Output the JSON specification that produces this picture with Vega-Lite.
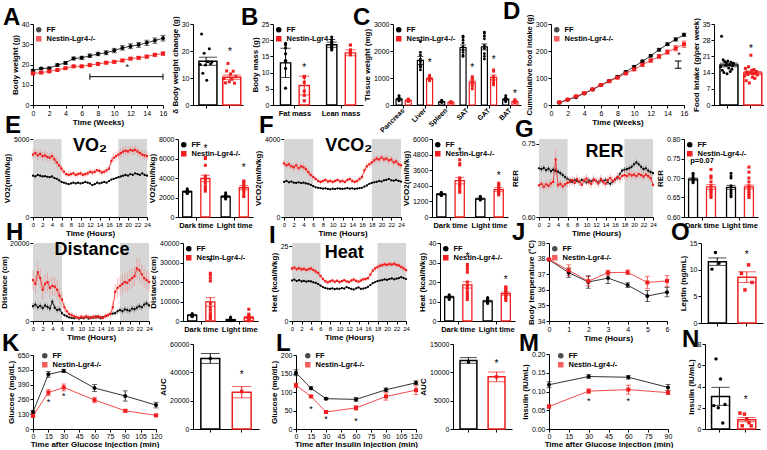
{
"padding":{"left":0,"top":0,"right":0,"bottom":0},
"config":{
 "font":"Liberation Sans",
 "view":{"stroke":null},
 "axis":{"labelFontSize":7,"titleFontSize":8,"titleFontWeight":"bold","labelColor":"#000","titleColor":"#000","domainColor":"#000","tickColor":"#000","grid":false,"tickSize":3,"labelPadding":1,"titlePadding":2,"labelFlush":false,"labelOverlap":false},
 "title":{"anchor":"start","frame":"group","fontSize":24,"fontWeight":"bold","color":"#000","offset":1},
 "legend":{"orient":"top-left","labelFontSize":7.5,"labelFontWeight":"bold","labelColor":"#000","symbolSize":16,"padding":0,"rowPadding":-3,"offset":2}
},
"vconcat":[
{"hconcat":[
   {"width":130,"height":81,"title":{"text":"A","dx":-30,"offset":-10},
    "data":{"values":[
{"x":0,"g":"FF","v":17,"e":0.6},{"x":1,"g":"FF","v":18,"e":0.6},{"x":2,"g":"FF","v":18.2,"e":0.6},{"x":3,"g":"FF","v":19.7,"e":0.6},{"x":4,"g":"FF","v":20.8,"e":0.7},{"x":5,"g":"FF","v":23,"e":0.7},{"x":6,"g":"FF","v":23.3,"e":0.8},{"x":7,"g":"FF","v":24.3,"e":0.9},{"x":8,"g":"FF","v":25.2,"e":0.9},{"x":9,"g":"FF","v":25.8,"e":1},{"x":10,"g":"FF","v":26.9,"e":1.1},{"x":11,"g":"FF","v":28.2,"e":1.1},{"x":12,"g":"FF","v":29,"e":1.2},{"x":13,"g":"FF","v":29.7,"e":1.2},{"x":14,"g":"FF","v":30.7,"e":1.3},{"x":15,"g":"FF","v":31.8,"e":1.3},{"x":16,"g":"FF","v":33,"e":1.4},
{"x":0,"g":"N","v":15.6,"e":0.4},{"x":1,"g":"N","v":16,"e":0.4},{"x":2,"g":"N","v":16.6,"e":0.4},{"x":3,"g":"N","v":17.3,"e":0.4},{"x":4,"g":"N","v":18.2,"e":0.5},{"x":5,"g":"N","v":19.1,"e":0.5},{"x":6,"g":"N","v":19.1,"e":0.5},{"x":7,"g":"N","v":19.7,"e":0.5},{"x":8,"g":"N","v":20.3,"e":0.5},{"x":9,"g":"N","v":20.9,"e":0.6},{"x":10,"g":"N","v":21.3,"e":0.6},{"x":11,"g":"N","v":22,"e":0.6},{"x":12,"g":"N","v":22.9,"e":0.6},{"x":13,"g":"N","v":23.3,"e":0.6},{"x":14,"g":"N","v":23.9,"e":0.7},{"x":15,"g":"N","v":24.8,"e":0.7},{"x":16,"g":"N","v":25.4,"e":0.8}]},
    "encoding":{"x":{"field":"x","type":"quantitative","scale":{"domain":[0,16],"nice":false},"axis":{"values":[0,2,4,6,8,10,12,14,16],"title":"Time (Weeks)"}},
     "y":{"field":"v","type":"quantitative","scale":{"domain":[0,40]},"axis":{"values":[0,10,20,30,40],"title":"Body weight (g)"}}},
    "layer":[
     {"mark":{"type":"errorbar","ticks":true,"thickness":0.8},"encoding":{"yError":{"field":"e"},"color":{"field":"g","type":"nominal","scale":{"domain":["FF","N"],"range":["#000000","#f01e1e"]}}}},
     {"mark":{"type":"line","strokeWidth":0.8},"encoding":{"color":{"field":"g","type":"nominal","scale":{"domain":["FF","N"],"range":["#000000","#f01e1e"]}}}},
     {"mark":{"type":"point","filled":true,"size":16,"opacity":1},"encoding":{"color":{"field":"g","type":"nominal","scale":{"domain":["FF","N"],"range":["#000000","#f01e1e"]},"legend":{"title":null,"labelExpr":"datum.label == 'N' ? 'Nestin-Lgr4-/-' : datum.label"}},"shape":{"field":"g","type":"nominal","scale":{"domain":["FF","N"],"range":["circle","square"]},"legend":{"title":null,"labelExpr":"datum.label == 'N' ? 'Nestin-Lgr4-/-' : datum.label"}}}},
     {"data":{"values":[{"x":11.6,"v":18.7}]},"mark":{"type":"text","text":"*","fontSize":9,"color":"#000"}},
     {"data":{"values":[{"x":7,"x2":16,"v":14}]},"mark":{"type":"rule","color":"#000","strokeWidth":1},"encoding":{"x2":{"field":"x2"}}},
     {"data":{"values":[{"x":7,"v":12.5,"v2":15.5},{"x":16,"v":12.5,"v2":15.5}]},"mark":{"type":"rule","color":"#000","strokeWidth":1},"encoding":{"y2":{"field":"v2"}}}
    ]},
   {"width":50,"height":81,
    "data":{"values":[{"g":"FF","v":16.2,"e":1.5},{"g":"N","v":10.3,"e":0.8}]},
    "encoding":{"x":{"field":"g","type":"nominal","scale":{"domain":["FF","N"],"paddingInner":0.4,"paddingOuter":0.25},"axis":{"labels":false,"title":null}},
     "y":{"field":"v","type":"quantitative","scale":{"domain":[0,30]},"axis":{"values":[0,10,20,30],"title":"δ Body weight change (g)"}}},
    "layer":[
     {"mark":{"type":"bar","fill":"white","strokeWidth":1.5},"encoding":{"stroke":{"field":"g","type":"nominal","scale":{"domain":["FF","N"],"range":["#000000","#f01e1e"]},"legend":null}}},
     {"mark":{"type":"errorbar","ticks":true},"encoding":{"yError":{"field":"e"},"color":{"field":"g","type":"nominal","scale":{"domain":["FF","N"],"range":["#000000","#f01e1e"]},"legend":null}}},
     {"data":{"values":[{"g":"FF","i":1,"v":15.0},{"g":"FF","i":2,"v":26.3},{"g":"FF","i":3,"v":11.8},{"g":"FF","i":4,"v":19.2},{"g":"FF","i":5,"v":14.8},{"g":"FF","i":6,"v":9.2},{"g":"FF","i":7,"v":16.0},{"g":"FF","i":8,"v":20.8},{"g":"FF","i":9,"v":15.3},{"g":"FF","i":10,"v":15.9},
{"g":"N","i":1,"v":9.8},{"g":"N","i":2,"v":8.2},{"g":"N","i":3,"v":12.6},{"g":"N","i":4,"v":15.4},{"g":"N","i":5,"v":8.6},{"g":"N","i":6,"v":11.5},{"g":"N","i":7,"v":9.5},{"g":"N","i":8,"v":12.5},{"g":"N","i":9,"v":8.1},{"g":"N","i":10,"v":10.5}]},
      "mark":{"type":"point","filled":true,"size":9,"opacity":1},"encoding":{"xOffset":{"field":"i","type":"ordinal","scale":{"paddingOuter":1}},"color":{"field":"g","type":"nominal","scale":{"domain":["FF","N"],"range":["#000000","#f01e1e"]},"legend":null},"shape":{"field":"g","type":"nominal","scale":{"domain":["FF","N"],"range":["circle","square"]},"legend":null}}},
     {"data":{"values":[{"g":"N","v":19.8}]},"mark":{"type":"text","text":"*","fontSize":10,"color":"#000"}}
    ]},
  {"width":90,"height":81,"title":{"text":"B","dx":-32,"offset":-10},
   "data":{"values":[{"p":"Fat mass","g":"FF","v":13,"e":4.5},{"p":"Fat mass","g":"N","v":6,"e":2.9},{"p":"Lean mass","g":"FF","v":18.6,"e":0.8},{"p":"Lean mass","g":"N","v":16.1,"e":0.9}]},
   "encoding":{"x":{"field":"p","type":"nominal","scale":{"domain":["Fat mass","Lean mass"],"paddingInner":0.25,"paddingOuter":0.1},"axis":{"title":null,"labelAngle":0,"labelFontWeight":"bold","labelFontSize":7.5}},
    "xOffset":{"field":"g","type":"nominal","scale":{"domain":["FF","N"],"paddingInner":0.45,"paddingOuter":0.15}},
    "y":{"field":"v","type":"quantitative","scale":{"domain":[0,25]},"axis":{"values":[0,5,10,15,20,25],"title":"Body mass (g)"}}},
   "layer":[
    {"mark":{"type":"bar","fill":"white","strokeWidth":1.4},"encoding":{"stroke":{"field":"g","type":"nominal","scale":{"domain":["FF","N"],"range":["#000000","#f01e1e"]},"legend":{"title":null,"labelExpr":"datum.label == 'N' ? 'Nestin-Lgr4-/-' : datum.label"}}}},
    {"mark":{"type":"errorbar","ticks":true},"encoding":{"yError":{"field":"e"},"color":{"field":"g","type":"nominal","scale":{"domain":["FF","N"],"range":["#000000","#f01e1e"]},"legend":{"title":null,"labelExpr":"datum.label == 'N' ? 'Nestin-Lgr4-/-' : datum.label"}}}},
    {"data":{"values":[{"p":"Fat mass","g":"FF","v":19},{"p":"Fat mass","g":"FF","v":18.5},{"p":"Fat mass","g":"FF","v":17.6},{"p":"Fat mass","g":"FF","v":15.8},{"p":"Fat mass","g":"FF","v":13.8},{"p":"Fat mass","g":"FF","v":11.3},{"p":"Fat mass","g":"FF","v":5.2},{"p":"Fat mass","g":"FF","v":13.4},
{"p":"Fat mass","g":"N","v":8.8},{"p":"Fat mass","g":"N","v":8.6},{"p":"Fat mass","g":"N","v":7},{"p":"Fat mass","g":"N","v":4.3},{"p":"Fat mass","g":"N","v":3},{"p":"Fat mass","g":"N","v":1.3},
{"p":"Lean mass","g":"FF","v":21},{"p":"Lean mass","g":"FF","v":20.2},{"p":"Lean mass","g":"FF","v":19.5},{"p":"Lean mass","g":"FF","v":19},{"p":"Lean mass","g":"FF","v":18.5},{"p":"Lean mass","g":"FF","v":18.2},{"p":"Lean mass","g":"FF","v":17.8},{"p":"Lean mass","g":"FF","v":17.5},{"p":"Lean mass","g":"FF","v":17},
{"p":"Lean mass","g":"N","v":18.5},{"p":"Lean mass","g":"N","v":17},{"p":"Lean mass","g":"N","v":16.5},{"p":"Lean mass","g":"N","v":16},{"p":"Lean mass","g":"N","v":15.8},{"p":"Lean mass","g":"N","v":15.5}]},
     "mark":{"type":"point","filled":true,"size":10,"opacity":1},"encoding":{"color":{"field":"g","type":"nominal","scale":{"domain":["FF","N"],"range":["#000000","#f01e1e"]},"legend":{"title":null,"labelExpr":"datum.label == 'N' ? 'Nestin-Lgr4-/-' : datum.label"}},"shape":{"field":"g","type":"nominal","scale":{"domain":["FF","N"],"range":["circle","square"]},"legend":{"title":null,"labelExpr":"datum.label == 'N' ? 'Nestin-Lgr4-/-' : datum.label"}}}},
    {"data":{"values":[{"p":"Fat mass","g":"N","v":11.5}]},"mark":{"type":"text","text":"*","fontSize":10,"color":"#000"}}
   ]},
  {"width":128,"height":81,"title":{"text":"C","dx":-40,"offset":-10},
   "data":{"values":[{"p":"Pancreas","g":"FF","v":220,"e":30},{"p":"Pancreas","g":"N","v":170,"e":15},{"p":"Liver","g":"FF","v":1650,"e":150},{"p":"Liver","g":"N","v":980,"e":40},{"p":"Spleen","g":"FF","v":120,"e":15},{"p":"Spleen","g":"N","v":95,"e":8},{"p":"SAT","g":"FF","v":2130,"e":90},{"p":"SAT","g":"N","v":850,"e":70},{"p":"GAT","g":"FF","v":2150,"e":110},{"p":"GAT","g":"N","v":1020,"e":90},{"p":"BAT","g":"FF","v":210,"e":30},{"p":"BAT","g":"N","v":130,"e":15}]},
   "encoding":{"x":{"field":"p","type":"nominal","scale":{"domain":["Pancreas","Liver","Spleen","SAT","GAT","BAT"],"paddingInner":0.2,"paddingOuter":0.1},"axis":{"title":null,"labelAngle":-45,"labelAlign":"right","labelBaseline":"middle","labelFontWeight":"bold","labelFontSize":7}},
    "xOffset":{"field":"g","type":"nominal","scale":{"domain":["FF","N"],"paddingInner":0.35,"paddingOuter":0.1}},
    "y":{"field":"v","type":"quantitative","scale":{"domain":[0,3000]},"axis":{"values":[0,1000,2000,3000],"format":"d","title":"Tissue weight (mg)"}}},
   "layer":[
    {"mark":{"type":"bar","fill":"white","strokeWidth":1.2},"encoding":{"stroke":{"field":"g","type":"nominal","scale":{"domain":["FF","N"],"range":["#000000","#f01e1e"]},"legend":{"title":null,"labelExpr":"datum.label == 'N' ? 'Nestin-Lgr4-/-' : datum.label"}}}},
    {"mark":{"type":"errorbar","ticks":true},"encoding":{"yError":{"field":"e"},"color":{"field":"g","type":"nominal","scale":{"domain":["FF","N"],"range":["#000000","#f01e1e"]},"legend":{"title":null,"labelExpr":"datum.label == 'N' ? 'Nestin-Lgr4-/-' : datum.label"}}}},
    {"data":{"values":[
{"p":"Pancreas","g":"FF","v":350},{"p":"Pancreas","g":"FF","v":300},{"p":"Pancreas","g":"FF","v":250},{"p":"Pancreas","g":"FF","v":220},{"p":"Pancreas","g":"FF","v":200},{"p":"Pancreas","g":"FF","v":180},{"p":"Pancreas","g":"FF","v":150},
{"p":"Pancreas","g":"N","v":220},{"p":"Pancreas","g":"N","v":200},{"p":"Pancreas","g":"N","v":180},{"p":"Pancreas","g":"N","v":160},{"p":"Pancreas","g":"N","v":150},{"p":"Pancreas","g":"N","v":130},
{"p":"Liver","g":"FF","v":2350},{"p":"Liver","g":"FF","v":1950},{"p":"Liver","g":"FF","v":1850},{"p":"Liver","g":"FF","v":1700},{"p":"Liver","g":"FF","v":1600},{"p":"Liver","g":"FF","v":1500},{"p":"Liver","g":"FF","v":1450},{"p":"Liver","g":"FF","v":1400},{"p":"Liver","g":"FF","v":1300},
{"p":"Liver","g":"N","v":1100},{"p":"Liver","g":"N","v":1050},{"p":"Liver","g":"N","v":1000},{"p":"Liver","g":"N","v":980},{"p":"Liver","g":"N","v":950},{"p":"Liver","g":"N","v":920},{"p":"Liver","g":"N","v":900},
{"p":"Spleen","g":"FF","v":180},{"p":"Spleen","g":"FF","v":150},{"p":"Spleen","g":"FF","v":130},{"p":"Spleen","g":"FF","v":110},{"p":"Spleen","g":"FF","v":100},{"p":"Spleen","g":"FF","v":90},
{"p":"Spleen","g":"N","v":120},{"p":"Spleen","g":"N","v":110},{"p":"Spleen","g":"N","v":100},{"p":"Spleen","g":"N","v":90},{"p":"Spleen","g":"N","v":80},
{"p":"SAT","g":"FF","v":2550},{"p":"SAT","g":"FF","v":2500},{"p":"SAT","g":"FF","v":2400},{"p":"SAT","g":"FF","v":2300},{"p":"SAT","g":"FF","v":2150},{"p":"SAT","g":"FF","v":2050},{"p":"SAT","g":"FF","v":1950},{"p":"SAT","g":"FF","v":1850},{"p":"SAT","g":"FF","v":1800},
{"p":"SAT","g":"N","v":1050},{"p":"SAT","g":"N","v":1000},{"p":"SAT","g":"N","v":950},{"p":"SAT","g":"N","v":850},{"p":"SAT","g":"N","v":800},{"p":"SAT","g":"N","v":700},{"p":"SAT","g":"N","v":600},
{"p":"GAT","g":"FF","v":2700},{"p":"GAT","g":"FF","v":2650},{"p":"GAT","g":"FF","v":2550},{"p":"GAT","g":"FF","v":2450},{"p":"GAT","g":"FF","v":2200},{"p":"GAT","g":"FF","v":2100},{"p":"GAT","g":"FF","v":1900},{"p":"GAT","g":"FF","v":1800},{"p":"GAT","g":"FF","v":1700},
{"p":"GAT","g":"N","v":1300},{"p":"GAT","g":"N","v":1250},{"p":"GAT","g":"N","v":1050},{"p":"GAT","g":"N","v":1000},{"p":"GAT","g":"N","v":900},{"p":"GAT","g":"N","v":800},{"p":"GAT","g":"N","v":750},
{"p":"BAT","g":"FF","v":350},{"p":"BAT","g":"FF","v":280},{"p":"BAT","g":"FF","v":250},{"p":"BAT","g":"FF","v":200},{"p":"BAT","g":"FF","v":180},{"p":"BAT","g":"FF","v":150},{"p":"BAT","g":"FF","v":120},
{"p":"BAT","g":"N","v":200},{"p":"BAT","g":"N","v":160},{"p":"BAT","g":"N","v":130},{"p":"BAT","g":"N","v":110},{"p":"BAT","g":"N","v":100},{"p":"BAT","g":"N","v":90}]},
     "mark":{"type":"point","filled":true,"size":8,"opacity":1},"encoding":{"color":{"field":"g","type":"nominal","scale":{"domain":["FF","N"],"range":["#000000","#f01e1e"]},"legend":{"title":null,"labelExpr":"datum.label == 'N' ? 'Nestin-Lgr4-/-' : datum.label"}},"shape":{"field":"g","type":"nominal","scale":{"domain":["FF","N"],"range":["circle","square"]},"legend":{"title":null,"labelExpr":"datum.label == 'N' ? 'Nestin-Lgr4-/-' : datum.label"}}}},
    {"data":{"values":[{"p":"Liver","g":"N","v":1560},{"p":"SAT","g":"N","v":1360},{"p":"GAT","g":"N","v":1680},{"p":"BAT","g":"N","v":400}]},"mark":{"type":"text","text":"*","fontSize":10,"color":"#000"}}
   ]},
   {"width":133,"height":81,"title":{"text":"D","dx":-48,"offset":-10},
    "data":{"values":[
{"x":1,"g":"FF","v":8,"e":1},{"x":2,"g":"FF","v":19,"e":1},{"x":3,"g":"FF","v":29,"e":2},{"x":4,"g":"FF","v":43,"e":2},{"x":5,"g":"FF","v":57,"e":2},{"x":6,"g":"FF","v":73,"e":2},{"x":7,"g":"FF","v":89,"e":3},{"x":8,"g":"FF","v":105,"e":3},{"x":9,"g":"FF","v":123,"e":3},{"x":10,"g":"FF","v":142,"e":4},{"x":11,"g":"FF","v":162,"e":4},{"x":12,"g":"FF","v":182,"e":4},{"x":13,"g":"FF","v":205,"e":5},{"x":14,"g":"FF","v":225,"e":5},{"x":15,"g":"FF","v":243,"e":6},{"x":16,"g":"FF","v":260,"e":6},
{"x":1,"g":"N","v":10,"e":1},{"x":2,"g":"N","v":20,"e":1},{"x":3,"g":"N","v":32,"e":2},{"x":4,"g":"N","v":44,"e":2},{"x":5,"g":"N","v":58,"e":2},{"x":6,"g":"N","v":74,"e":2},{"x":7,"g":"N","v":88,"e":3},{"x":8,"g":"N","v":101,"e":3},{"x":9,"g":"N","v":117,"e":3},{"x":10,"g":"N","v":132,"e":4},{"x":11,"g":"N","v":149,"e":5},{"x":12,"g":"N","v":165,"e":6},{"x":13,"g":"N","v":180,"e":7},{"x":14,"g":"N","v":196,"e":8},{"x":15,"g":"N","v":210,"e":10},{"x":16,"g":"N","v":225,"e":12}]},
    "encoding":{"x":{"field":"x","type":"quantitative","scale":{"domain":[0,16],"nice":false},"axis":{"values":[0,2,4,6,8,10,12,14,16],"title":"Time (Weeks)"}},
     "y":{"field":"v","type":"quantitative","scale":{"domain":[0,300]},"axis":{"values":[0,100,200,300],"title":"Cummulative food intake (g)","titleFontSize":7.5}}},
    "layer":[
     {"mark":{"type":"errorbar","ticks":true,"thickness":0.8},"encoding":{"yError":{"field":"e"},"color":{"field":"g","type":"nominal","scale":{"domain":["FF","N"],"range":["#000000","#f01e1e"]}}}},
     {"mark":{"type":"line","strokeWidth":0.8},"encoding":{"color":{"field":"g","type":"nominal","scale":{"domain":["FF","N"],"range":["#000000","#f01e1e"]}}}},
     {"mark":{"type":"point","filled":true,"size":16,"opacity":1},"encoding":{"color":{"field":"g","type":"nominal","scale":{"domain":["FF","N"],"range":["#000000","#f01e1e"]},"legend":{"title":null,"labelExpr":"datum.label == 'N' ? 'Nestin-Lgr4-/-' : datum.label"}},"shape":{"field":"g","type":"nominal","scale":{"domain":["FF","N"],"range":["circle","square"]},"legend":{"title":null,"labelExpr":"datum.label == 'N' ? 'Nestin-Lgr4-/-' : datum.label"}}}},
     {"data":{"values":[{"x":15.4,"v":186}]},"mark":{"type":"text","text":"*","fontSize":9,"color":"#000"}},
     {"data":{"values":[{"x":15.3,"v":136,"v2":163}]},"mark":{"type":"rule","color":"#000","strokeWidth":1},"encoding":{"y2":{"field":"v2"}}},
     {"data":{"values":[{"x":14.9,"x2":15.7,"v":136},{"x":14.9,"x2":15.7,"v":163}]},"mark":{"type":"rule","color":"#000","strokeWidth":1},"encoding":{"x2":{"field":"x2"}}}
    ]},
   {"width":50,"height":81,
    "data":{"values":[{"g":"FF","v":17.3,"e":0.8},{"g":"N","v":13.8,"e":0.7}]},
    "encoding":{"x":{"field":"g","type":"nominal","scale":{"domain":["FF","N"],"paddingInner":0.4,"paddingOuter":0.25},"axis":{"labels":false,"title":null}},
     "y":{"field":"v","type":"quantitative","scale":{"domain":[0,35]},"axis":{"values":[0,7,14,21,28,35],"title":"Food intake (g/per week)"}}},
    "layer":[
     {"mark":{"type":"bar","fill":"white","strokeWidth":1.5},"encoding":{"stroke":{"field":"g","type":"nominal","scale":{"domain":["FF","N"],"range":["#000000","#f01e1e"]},"legend":null}}},
     {"mark":{"type":"errorbar","ticks":true},"encoding":{"yError":{"field":"e"},"color":{"field":"g","type":"nominal","scale":{"domain":["FF","N"],"range":["#000000","#f01e1e"]},"legend":null}}},
     {"data":{"values":[{"g":"FF","i":1,"v":16.5},{"g":"FF","i":2,"v":29.7},{"g":"FF","i":3,"v":15.0},{"g":"FF","i":4,"v":19.5},{"g":"FF","i":5,"v":14.0},{"g":"FF","i":6,"v":18.8},{"g":"FF","i":7,"v":17.2},{"g":"FF","i":8,"v":18.3},{"g":"FF","i":9,"v":13.5},{"g":"FF","i":10,"v":19.0},{"g":"FF","i":11,"v":16.0},{"g":"FF","i":12,"v":17.5},{"g":"FF","i":13,"v":14.5},{"g":"FF","i":14,"v":18.5},{"g":"FF","i":15,"v":15.5},{"g":"FF","i":16,"v":17.0},{"g":"FF","i":17,"v":18.0},
{"g":"N","i":1,"v":12.5},{"g":"N","i":2,"v":15.8},{"g":"N","i":3,"v":10.5},{"g":"N","i":4,"v":14.3},{"g":"N","i":5,"v":13.2},{"g":"N","i":6,"v":16.5},{"g":"N","i":7,"v":9.5},{"g":"N","i":8,"v":14.0},{"g":"N","i":9,"v":21.5},{"g":"N","i":10,"v":15.0},{"g":"N","i":11,"v":12.0},{"g":"N","i":12,"v":13.5},{"g":"N","i":13,"v":15.3},{"g":"N","i":14,"v":11.5},{"g":"N","i":15,"v":13.8},{"g":"N","i":16,"v":14.5},{"g":"N","i":17,"v":13.0}]},
      "mark":{"type":"point","filled":true,"size":9,"opacity":1},"encoding":{"xOffset":{"field":"i","type":"ordinal","scale":{"paddingOuter":1}},"color":{"field":"g","type":"nominal","scale":{"domain":["FF","N"],"range":["#000000","#f01e1e"]},"legend":null},"shape":{"field":"g","type":"nominal","scale":{"domain":["FF","N"],"range":["circle","square"]},"legend":null}}},
     {"data":{"values":[{"g":"N","v":24.3}]},"mark":{"type":"text","text":"*","fontSize":10,"color":"#000"}}
    ]}
],"spacing":30,"bounds":"flush",
"resolve":{"scale":{"color":"independent","shape":"independent","stroke":"independent","xOffset":"independent"},"legend":{"color":"independent","shape":"independent","stroke":"independent"}}},
{"vconcat":[
{"hconcat":[
 {"width":114,"height":78,"title":{"text":"E","dx":-28,"offset":-3},
  "data":{"values":[
{"t":0,"a":2650,"ae":70,"b":4000,"be":300},{"t":0.5,"a":2600,"ae":70,"b":4100,"be":300},{"t":1,"a":2700,"ae":70,"b":3950,"be":300},{"t":1.5,"a":2650,"ae":70,"b":4050,"be":300},{"t":2,"a":2600,"ae":70,"b":3900,"be":300},{"t":2.5,"a":2620,"ae":70,"b":3950,"be":300},{"t":3,"a":2580,"ae":70,"b":3850,"be":300},{"t":3.5,"a":2550,"ae":70,"b":3800,"be":300},{"t":4,"a":2600,"ae":70,"b":3900,"be":300},{"t":4.5,"a":2500,"ae":70,"b":3700,"be":300},{"t":5,"a":2450,"ae":70,"b":3500,"be":300},{"t":5.5,"a":2350,"ae":70,"b":3300,"be":250},{"t":6,"a":2250,"ae":60,"b":3100,"be":220},{"t":6.5,"a":2200,"ae":60,"b":2900,"be":200},{"t":7,"a":2150,"ae":60,"b":2750,"be":190},{"t":7.5,"a":2100,"ae":60,"b":2700,"be":190},{"t":8,"a":2150,"ae":60,"b":2750,"be":190},{"t":8.5,"a":2200,"ae":60,"b":2800,"be":190},{"t":9,"a":2150,"ae":60,"b":2700,"be":190},{"t":9.5,"a":2200,"ae":60,"b":2750,"be":190},{"t":10,"a":2150,"ae":60,"b":2800,"be":190},{"t":10.5,"a":2180,"ae":60,"b":2700,"be":190},{"t":11,"a":2250,"ae":60,"b":2750,"be":190},{"t":11.5,"a":2200,"ae":60,"b":2800,"be":190},{"t":12,"a":2150,"ae":60,"b":2900,"be":190},{"t":12.5,"a":2050,"ae":60,"b":2850,"be":190},{"t":13,"a":2100,"ae":60,"b":2900,"be":190},{"t":13.5,"a":2200,"ae":60,"b":3000,"be":190},{"t":14,"a":2150,"ae":60,"b":2950,"be":190},{"t":14.5,"a":2200,"ae":60,"b":2850,"be":190},{"t":15,"a":2250,"ae":60,"b":2900,"be":190},{"t":15.5,"a":2200,"ae":60,"b":3000,"be":190},{"t":16,"a":2300,"ae":60,"b":3100,"be":200},{"t":16.5,"a":2400,"ae":70,"b":3600,"be":250},{"t":17,"a":2450,"ae":70,"b":3800,"be":300},{"t":17.5,"a":2500,"ae":70,"b":3900,"be":300},{"t":18,"a":2550,"ae":70,"b":4000,"be":300},{"t":18.5,"a":2600,"ae":70,"b":4100,"be":300},{"t":19,"a":2650,"ae":70,"b":4200,"be":300},{"t":19.5,"a":2700,"ae":70,"b":4250,"be":300},{"t":20,"a":2650,"ae":70,"b":4200,"be":300},{"t":20.5,"a":2750,"ae":70,"b":4300,"be":300},{"t":21,"a":2700,"ae":70,"b":4250,"be":300},{"t":21.5,"a":2800,"ae":70,"b":4300,"be":300},{"t":22,"a":2750,"ae":70,"b":4200,"be":300},{"t":22.5,"a":2700,"ae":70,"b":4100,"be":300},{"t":23,"a":2800,"ae":70,"b":4000,"be":300},{"t":23.5,"a":2700,"ae":70,"b":3950,"be":300},{"t":24,"a":2650,"ae":70,"b":3900,"be":300}]},
  "encoding":{"x":{"field":"t","type":"quantitative","scale":{"domain":[0,24],"nice":false},"axis":{"values":[0,2,4,6,8,10,12,14,16,18,20,22,24],"title":"Time (Hours)","labelFontSize":6}}},
  "layer":[
   {"data":{"values":[{"t":0,"t2":6},{"t":18,"t2":24}]},"mark":{"type":"rect","color":"#d6d6d6"},"encoding":{"x2":{"field":"t2"},"y":{"value":0},"y2":{"value":"height"}}},
   {"mark":{"type":"errorbar","color":"#555555","thickness":0.5},"encoding":{"y":{"field":"a","type":"quantitative","title":"VO2(ml/h/kg)","scale":{"domain":[0,5000]},"axis":{"values":[0,1000,2000,3000,4000,5000],"format":"d","title":"VO2(ml/h/kg)"}},"yError":{"field":"ae"}}},
   {"mark":{"type":"line","color":"#000000","strokeWidth":0.8,"point":{"filled":true,"size":5,"shape":"circle","color":"#000000"}},"encoding":{"y":{"field":"a","type":"quantitative","title":"VO2(ml/h/kg)"}}},
   {"mark":{"type":"errorbar","color":"#f37a7a","thickness":0.5},"encoding":{"y":{"field":"b","type":"quantitative","title":"VO2(ml/h/kg)"},"yError":{"field":"be"}}},
   {"mark":{"type":"line","color":"#f01e1e","strokeWidth":0.8,"point":{"filled":true,"size":5,"shape":"square","color":"#f01e1e"}},"encoding":{"y":{"field":"b","type":"quantitative","title":"VO2(ml/h/kg)"}}},
   {"data":{"values":[{"t":12,"a":4550,"s":"VO₂"}]},"mark":{"type":"text","fontSize":18,"fontWeight":"bold","color":"#000"},"encoding":{"y":{"field":"a","type":"quantitative","title":"VO2(ml/h/kg)"},"text":{"field":"s"}}}
  ]},
 {"width":75,"height":78,
  "data":{"values":[{"p":"D","g":"FF","v":2600,"e":80},{"p":"D","g":"N","v":3950,"e":330},{"p":"L","g":"FF","v":2100,"e":100},{"p":"L","g":"N","v":3000,"e":220}]},
  "encoding":{"x":{"field":"p","type":"nominal","scale":{"domain":["D","L"],"paddingInner":0.15,"paddingOuter":0.05},"axis":{"title":null,"labelAngle":0,"labelFontWeight":"bold","labelFontSize":7.5,"labelExpr":"datum.value == 'D' ? 'Dark time' : 'Light time'"}},
   "xOffset":{"field":"g","type":"nominal","scale":{"domain":["FF","N"],"paddingInner":0.5,"paddingOuter":0.15}},
   "y":{"field":"v","type":"quantitative","scale":{"domain":[0,8000]},"axis":{"values":[0,2000,4000,6000,8000],"format":"d","title":"VO2(ml/h/kg)"}}},
  "layer":[
   {"mark":{"type":"bar","fill":"white","strokeWidth":1.3},"encoding":{"stroke":{"field":"g","type":"nominal","scale":{"domain":["FF","N"],"range":["#000000","#f01e1e"]},"legend":{"title":null,"labelExpr":"datum.label == 'N' ? 'Nestin-Lgr4-/-' : datum.label"}}}},
   {"mark":{"type":"errorbar","ticks":true},"encoding":{"yError":{"field":"e"},"color":{"field":"g","type":"nominal","scale":{"domain":["FF","N"],"range":["#000000","#f01e1e"]},"legend":{"title":null,"labelExpr":"datum.label == 'N' ? 'Nestin-Lgr4-/-' : datum.label"}}}},
   {"data":{"values":[{"p":"D","g":"FF","v":2900},{"p":"D","g":"FF","v":2750},{"p":"D","g":"FF","v":2700},{"p":"D","g":"FF","v":2650},{"p":"D","g":"FF","v":2600},{"p":"D","g":"FF","v":2550},{"p":"D","g":"FF","v":2500},{"p":"D","g":"FF","v":2450},{"p":"D","g":"FF","v":2400},
{"p":"D","g":"N","v":6100},{"p":"D","g":"N","v":6000},{"p":"D","g":"N","v":5300},{"p":"D","g":"N","v":4200},{"p":"D","g":"N","v":4000},{"p":"D","g":"N","v":3800},{"p":"D","g":"N","v":3500},{"p":"D","g":"N","v":3200},{"p":"D","g":"N","v":3000},{"p":"D","g":"N","v":2800},{"p":"D","g":"N","v":2650},
{"p":"L","g":"FF","v":2500},{"p":"L","g":"FF","v":2300},{"p":"L","g":"FF","v":2200},{"p":"L","g":"FF","v":2150},{"p":"L","g":"FF","v":2100},{"p":"L","g":"FF","v":2050},{"p":"L","g":"FF","v":2000},{"p":"L","g":"FF","v":1950},{"p":"L","g":"FF","v":1850},
{"p":"L","g":"N","v":3700},{"p":"L","g":"N","v":3600},{"p":"L","g":"N","v":3400},{"p":"L","g":"N","v":3200},{"p":"L","g":"N","v":3000},{"p":"L","g":"N","v":2900},{"p":"L","g":"N","v":2700},{"p":"L","g":"N","v":2500},{"p":"L","g":"N","v":2200},{"p":"L","g":"N","v":2100}]},
    "mark":{"type":"point","filled":true,"size":9,"opacity":1},"encoding":{"color":{"field":"g","type":"nominal","scale":{"domain":["FF","N"],"range":["#000000","#f01e1e"]},"legend":{"title":null,"labelExpr":"datum.label == 'N' ? 'Nestin-Lgr4-/-' : datum.label"}},"shape":{"field":"g","type":"nominal","scale":{"domain":["FF","N"],"range":["circle","square"]},"legend":{"title":null,"labelExpr":"datum.label == 'N' ? 'Nestin-Lgr4-/-' : datum.label"}}}},
   {"data":{"values":[{"p":"D","g":"N","v":6950},{"p":"L","g":"N","v":5000}]},"mark":{"type":"text","text":"*","fontSize":10,"color":"#000"}}
  ]},
 {"width":117,"height":78,"title":{"text":"F","dx":-25,"offset":-3},
  "data":{"values":[
{"t":0,"a":1800,"ae":50,"b":2750,"be":200},{"t":0.5,"a":1850,"ae":50,"b":2650,"be":200},{"t":1,"a":1780,"ae":50,"b":2700,"be":200},{"t":1.5,"a":1820,"ae":50,"b":2600,"be":200},{"t":2,"a":1760,"ae":50,"b":2550,"be":200},{"t":2.5,"a":1750,"ae":50,"b":2650,"be":200},{"t":3,"a":1780,"ae":50,"b":2500,"be":200},{"t":3.5,"a":1740,"ae":50,"b":2600,"be":200},{"t":4,"a":1760,"ae":50,"b":2550,"be":200},{"t":4.5,"a":1720,"ae":50,"b":2450,"be":200},{"t":5,"a":1700,"ae":50,"b":2300,"be":180},{"t":5.5,"a":1650,"ae":50,"b":2150,"be":160},{"t":6,"a":1580,"ae":45,"b":2050,"be":140},{"t":6.5,"a":1520,"ae":45,"b":1950,"be":120},{"t":7,"a":1500,"ae":45,"b":1850,"be":120},{"t":7.5,"a":1480,"ae":45,"b":1800,"be":120},{"t":8,"a":1450,"ae":45,"b":1850,"be":120},{"t":8.5,"a":1470,"ae":45,"b":1900,"be":120},{"t":9,"a":1440,"ae":45,"b":1820,"be":120},{"t":9.5,"a":1420,"ae":45,"b":1850,"be":120},{"t":10,"a":1450,"ae":45,"b":1800,"be":120},{"t":10.5,"a":1430,"ae":45,"b":1850,"be":120},{"t":11,"a":1470,"ae":45,"b":1900,"be":120},{"t":11.5,"a":1450,"ae":45,"b":1820,"be":120},{"t":12,"a":1440,"ae":45,"b":1850,"be":120},{"t":12.5,"a":1460,"ae":45,"b":1800,"be":120},{"t":13,"a":1480,"ae":45,"b":1900,"be":120},{"t":13.5,"a":1450,"ae":45,"b":1950,"be":120},{"t":14,"a":1470,"ae":45,"b":1850,"be":120},{"t":14.5,"a":1440,"ae":45,"b":1800,"be":120},{"t":15,"a":1460,"ae":45,"b":1850,"be":120},{"t":15.5,"a":1480,"ae":45,"b":1950,"be":120},{"t":16,"a":1500,"ae":45,"b":2050,"be":140},{"t":16.5,"a":1560,"ae":50,"b":2400,"be":180},{"t":17,"a":1620,"ae":50,"b":2600,"be":200},{"t":17.5,"a":1700,"ae":50,"b":2700,"be":200},{"t":18,"a":1750,"ae":50,"b":2800,"be":200},{"t":18.5,"a":1780,"ae":50,"b":2900,"be":200},{"t":19,"a":1800,"ae":50,"b":3000,"be":200},{"t":19.5,"a":1850,"ae":50,"b":2950,"be":200},{"t":20,"a":1820,"ae":50,"b":3050,"be":200},{"t":20.5,"a":1880,"ae":50,"b":2950,"be":200},{"t":21,"a":1900,"ae":50,"b":3000,"be":200},{"t":21.5,"a":1950,"ae":50,"b":2900,"be":200},{"t":22,"a":1880,"ae":50,"b":2950,"be":200},{"t":22.5,"a":1860,"ae":50,"b":2800,"be":200},{"t":23,"a":1900,"ae":50,"b":2850,"be":200},{"t":23.5,"a":1850,"ae":50,"b":2700,"be":200},{"t":24,"a":1820,"ae":50,"b":2650,"be":200}]},
  "encoding":{"x":{"field":"t","type":"quantitative","scale":{"domain":[0,24],"nice":false},"axis":{"values":[0,2,4,6,8,10,12,14,16,18,20,22,24],"title":"Time (Hours)","labelFontSize":6}}},
  "layer":[
   {"data":{"values":[{"t":0,"t2":6},{"t":18,"t2":24}]},"mark":{"type":"rect","color":"#d6d6d6"},"encoding":{"x2":{"field":"t2"},"y":{"value":0},"y2":{"value":"height"}}},
   {"mark":{"type":"errorbar","color":"#555555","thickness":0.5},"encoding":{"y":{"field":"a","type":"quantitative","title":"VCO2(ml/h/kg)","scale":{"domain":[0,4000]},"axis":{"values":[0,1000,2000,3000,4000],"format":"d","title":"VCO2(ml/h/kg)"}},"yError":{"field":"ae"}}},
   {"mark":{"type":"line","color":"#000000","strokeWidth":0.8,"point":{"filled":true,"size":5,"shape":"circle","color":"#000000"}},"encoding":{"y":{"field":"a","type":"quantitative","title":"VCO2(ml/h/kg)"}}},
   {"mark":{"type":"errorbar","color":"#f37a7a","thickness":0.5},"encoding":{"y":{"field":"b","type":"quantitative","title":"VCO2(ml/h/kg)"},"yError":{"field":"be"}}},
   {"mark":{"type":"line","color":"#f01e1e","strokeWidth":0.8,"point":{"filled":true,"size":5,"shape":"square","color":"#f01e1e"}},"encoding":{"y":{"field":"b","type":"quantitative","title":"VCO2(ml/h/kg)"}}},
   {"data":{"values":[{"t":13.3,"a":3650,"s":"VCO₂"}]},"mark":{"type":"text","fontSize":18,"fontWeight":"bold","color":"#000"},"encoding":{"y":{"field":"a","type":"quantitative","title":"VCO2(ml/h/kg)"},"text":{"field":"s"}}}
  ]},
 {"width":76,"height":78,
  "data":{"values":[{"p":"D","g":"FF","v":1750,"e":50},{"p":"D","g":"N","v":2800,"e":250},{"p":"L","g":"FF","v":1400,"e":50},{"p":"L","g":"N","v":2100,"e":150}]},
  "encoding":{"x":{"field":"p","type":"nominal","scale":{"domain":["D","L"],"paddingInner":0.15,"paddingOuter":0.05},"axis":{"title":null,"labelAngle":0,"labelFontWeight":"bold","labelFontSize":7.5,"labelExpr":"datum.value == 'D' ? 'Dark time' : 'Light time'"}},
   "xOffset":{"field":"g","type":"nominal","scale":{"domain":["FF","N"],"paddingInner":0.5,"paddingOuter":0.15}},
   "y":{"field":"v","type":"quantitative","scale":{"domain":[0,6000]},"axis":{"values":[0,1200,2400,3600,4800,6000],"format":"d","title":"VCO2(ml/h/kg)"}}},
  "layer":[
   {"mark":{"type":"bar","fill":"white","strokeWidth":1.3},"encoding":{"stroke":{"field":"g","type":"nominal","scale":{"domain":["FF","N"],"range":["#000000","#f01e1e"]},"legend":{"title":null,"labelExpr":"datum.label == 'N' ? 'Nestin-Lgr4-/-' : datum.label"}}}},
   {"mark":{"type":"errorbar","ticks":true},"encoding":{"yError":{"field":"e"},"color":{"field":"g","type":"nominal","scale":{"domain":["FF","N"],"range":["#000000","#f01e1e"]},"legend":{"title":null,"labelExpr":"datum.label == 'N' ? 'Nestin-Lgr4-/-' : datum.label"}}}},
   {"data":{"values":[{"p":"D","g":"FF","v":1900},{"p":"D","g":"FF","v":1850},{"p":"D","g":"FF","v":1800},{"p":"D","g":"FF","v":1780},{"p":"D","g":"FF","v":1750},{"p":"D","g":"FF","v":1720},{"p":"D","g":"FF","v":1700},{"p":"D","g":"FF","v":1680},{"p":"D","g":"FF","v":1650},
{"p":"D","g":"N","v":4400},{"p":"D","g":"N","v":4100},{"p":"D","g":"N","v":4000},{"p":"D","g":"N","v":3000},{"p":"D","g":"N","v":2900},{"p":"D","g":"N","v":2700},{"p":"D","g":"N","v":2500},{"p":"D","g":"N","v":2400},{"p":"D","g":"N","v":2200},{"p":"D","g":"N","v":2000},{"p":"D","g":"N","v":1900},
{"p":"L","g":"FF","v":1600},{"p":"L","g":"FF","v":1500},{"p":"L","g":"FF","v":1450},{"p":"L","g":"FF","v":1420},{"p":"L","g":"FF","v":1400},{"p":"L","g":"FF","v":1380},{"p":"L","g":"FF","v":1350},{"p":"L","g":"FF","v":1320},{"p":"L","g":"FF","v":1300},
{"p":"L","g":"N","v":2600},{"p":"L","g":"N","v":2500},{"p":"L","g":"N","v":2400},{"p":"L","g":"N","v":2300},{"p":"L","g":"N","v":2200},{"p":"L","g":"N","v":2100},{"p":"L","g":"N","v":2000},{"p":"L","g":"N","v":1900},{"p":"L","g":"N","v":1800},{"p":"L","g":"N","v":1700}]},
    "mark":{"type":"point","filled":true,"size":9,"opacity":1},"encoding":{"color":{"field":"g","type":"nominal","scale":{"domain":["FF","N"],"range":["#000000","#f01e1e"]},"legend":{"title":null,"labelExpr":"datum.label == 'N' ? 'Nestin-Lgr4-/-' : datum.label"}},"shape":{"field":"g","type":"nominal","scale":{"domain":["FF","N"],"range":["circle","square"]},"legend":{"title":null,"labelExpr":"datum.label == 'N' ? 'Nestin-Lgr4-/-' : datum.label"}}}},
   {"data":{"values":[{"p":"D","g":"N","v":5000},{"p":"L","g":"N","v":3150}]},"mark":{"type":"text","text":"*","fontSize":10,"color":"#000"}}
  ]},
 {"width":114,"height":78,"title":{"text":"G","dx":-24,"offset":-3},
  "data":{"values":[
{"t":0,"a":0.7,"ae":0.006,"b":0.665,"be":0.009},{"t":0.5,"a":0.698,"ae":0.006,"b":0.668,"be":0.009},{"t":1,"a":0.701,"ae":0.006,"b":0.662,"be":0.009},{"t":1.5,"a":0.696,"ae":0.006,"b":0.667,"be":0.009},{"t":2,"a":0.699,"ae":0.006,"b":0.664,"be":0.009},{"t":2.5,"a":0.694,"ae":0.006,"b":0.669,"be":0.009},{"t":3,"a":0.697,"ae":0.006,"b":0.672,"be":0.009},{"t":3.5,"a":0.695,"ae":0.006,"b":0.718,"be":0.022},{"t":4,"a":0.693,"ae":0.006,"b":0.665,"be":0.009},{"t":4.5,"a":0.69,"ae":0.006,"b":0.668,"be":0.009},{"t":5,"a":0.686,"ae":0.006,"b":0.663,"be":0.009},{"t":5.5,"a":0.682,"ae":0.006,"b":0.667,"be":0.009},{"t":6,"a":0.678,"ae":0.006,"b":0.67,"be":0.009},{"t":6.5,"a":0.675,"ae":0.006,"b":0.672,"be":0.009},{"t":7,"a":0.672,"ae":0.006,"b":0.676,"be":0.009},{"t":7.5,"a":0.676,"ae":0.006,"b":0.67,"be":0.009},{"t":8,"a":0.674,"ae":0.006,"b":0.678,"be":0.009},{"t":8.5,"a":0.672,"ae":0.006,"b":0.672,"be":0.009},{"t":9,"a":0.676,"ae":0.006,"b":0.666,"be":0.009},{"t":9.5,"a":0.674,"ae":0.006,"b":0.675,"be":0.009},{"t":10,"a":0.671,"ae":0.006,"b":0.679,"be":0.009},{"t":10.5,"a":0.675,"ae":0.006,"b":0.671,"be":0.009},{"t":11,"a":0.673,"ae":0.006,"b":0.668,"be":0.009},{"t":11.5,"a":0.676,"ae":0.006,"b":0.677,"be":0.009},{"t":12,"a":0.674,"ae":0.006,"b":0.674,"be":0.009},{"t":12.5,"a":0.671,"ae":0.006,"b":0.669,"be":0.009},{"t":13,"a":0.675,"ae":0.006,"b":0.678,"be":0.009},{"t":13.5,"a":0.673,"ae":0.006,"b":0.672,"be":0.009},{"t":14,"a":0.676,"ae":0.006,"b":0.668,"be":0.009},{"t":14.5,"a":0.671,"ae":0.006,"b":0.676,"be":0.009},{"t":15,"a":0.668,"ae":0.006,"b":0.68,"be":0.009},{"t":15.5,"a":0.672,"ae":0.006,"b":0.674,"be":0.009},{"t":16,"a":0.676,"ae":0.006,"b":0.677,"be":0.009},{"t":16.5,"a":0.68,"ae":0.006,"b":0.682,"be":0.009},{"t":17,"a":0.688,"ae":0.006,"b":0.679,"be":0.009},{"t":17.5,"a":0.695,"ae":0.006,"b":0.684,"be":0.009},{"t":18,"a":0.697,"ae":0.006,"b":0.686,"be":0.009},{"t":18.5,"a":0.698,"ae":0.006,"b":0.684,"be":0.009},{"t":19,"a":0.7,"ae":0.006,"b":0.688,"be":0.009},{"t":19.5,"a":0.703,"ae":0.006,"b":0.685,"be":0.009},{"t":20,"a":0.708,"ae":0.006,"b":0.687,"be":0.009},{"t":20.5,"a":0.712,"ae":0.006,"b":0.684,"be":0.009},{"t":21,"a":0.708,"ae":0.006,"b":0.688,"be":0.009},{"t":21.5,"a":0.703,"ae":0.006,"b":0.686,"be":0.009},{"t":22,"a":0.698,"ae":0.006,"b":0.683,"be":0.009},{"t":22.5,"a":0.7,"ae":0.006,"b":0.687,"be":0.009},{"t":23,"a":0.695,"ae":0.006,"b":0.684,"be":0.009},{"t":23.5,"a":0.692,"ae":0.006,"b":0.68,"be":0.009},{"t":24,"a":0.69,"ae":0.006,"b":0.666,"be":0.009}]},
  "encoding":{"x":{"field":"t","type":"quantitative","scale":{"domain":[0,24],"nice":false},"axis":{"values":[0,2,4,6,8,10,12,14,16,18,20,22,24],"title":"Time (Hours)","labelFontSize":6}}},
  "layer":[
   {"data":{"values":[{"t":0,"t2":6},{"t":18,"t2":24}]},"mark":{"type":"rect","color":"#d6d6d6"},"encoding":{"x2":{"field":"t2"},"y":{"value":0},"y2":{"value":"height"}}},
   {"mark":{"type":"errorbar","color":"#555555","thickness":0.5,"clip":true},"encoding":{"y":{"field":"a","type":"quantitative","title":"RER","scale":{"domain":[0.6,0.75],"zero":false},"axis":{"values":[0.6,0.65,0.7,0.75],"format":".2f","title":"RER"}},"yError":{"field":"ae"}}},
   {"mark":{"type":"line","color":"#000000","strokeWidth":0.8,"point":{"filled":true,"size":5,"shape":"circle","color":"#000000"}},"encoding":{"y":{"field":"a","type":"quantitative","title":"RER"}}},
   {"mark":{"type":"errorbar","color":"#f37a7a","thickness":0.5,"clip":true},"encoding":{"y":{"field":"b","type":"quantitative","title":"RER"},"yError":{"field":"be"}}},
   {"mark":{"type":"line","color":"#f01e1e","strokeWidth":0.8,"point":{"filled":true,"size":5,"shape":"square","color":"#f01e1e"}},"encoding":{"y":{"field":"b","type":"quantitative","title":"RER"}}},
   {"data":{"values":[{"t":13.8,"a":0.734,"s":"RER"}]},"mark":{"type":"text","fontSize":18,"fontWeight":"bold","color":"#000"},"encoding":{"y":{"field":"a","type":"quantitative","title":"RER"},"text":{"field":"s"}}}
  ]},
 {"width":74,"height":78,
  "data":{"values":[{"p":"D","g":"FF","v":0.697,"e":0.003},{"p":"D","g":"N","v":0.677,"e":0.006},{"p":"L","g":"FF","v":0.676,"e":0.005},{"p":"L","g":"N","v":0.677,"e":0.005}]},
  "encoding":{"x":{"field":"p","type":"nominal","scale":{"domain":["D","L"],"paddingInner":0.15,"paddingOuter":0.05},"axis":{"title":null,"labelAngle":0,"labelFontWeight":"bold","labelFontSize":7.5,"labelExpr":"datum.value == 'D' ? 'Dark time' : 'Light time'"}},
   "y":{"field":"v","type":"quantitative","scale":{"domain":[0.6,0.8],"zero":false},"axis":{"values":[0.6,0.65,0.7,0.75,0.8],"format":".2f","title":"RER"}}},
  "layer":[
   {"mark":{"type":"bar","fill":"white","strokeWidth":1.3,"clip":true},"encoding":{"xOffset":{"field":"g","type":"nominal","scale":{"domain":["FF","N"],"paddingInner":0.5,"paddingOuter":0.15}},"stroke":{"field":"g","type":"nominal","scale":{"domain":["FF","N"],"range":["#000000","#f01e1e"]},"legend":{"title":null,"labelExpr":"datum.label == 'N' ? 'Nestin-Lgr4-/-' : datum.label"}}}},
   {"mark":{"type":"errorbar","ticks":true},"encoding":{"xOffset":{"field":"g","type":"nominal"},"yError":{"field":"e"},"color":{"field":"g","type":"nominal","scale":{"domain":["FF","N"],"range":["#000000","#f01e1e"]},"legend":{"title":null,"labelExpr":"datum.label == 'N' ? 'Nestin-Lgr4-/-' : datum.label"}}}},
   {"data":{"values":[{"p":"D","g":"FF","v":0.712},{"p":"D","g":"FF","v":0.71},{"p":"D","g":"FF","v":0.705},{"p":"D","g":"FF","v":0.7},{"p":"D","g":"FF","v":0.698},{"p":"D","g":"FF","v":0.695},{"p":"D","g":"FF","v":0.692},{"p":"D","g":"FF","v":0.69},{"p":"D","g":"FF","v":0.688},
{"p":"D","g":"N","v":0.722},{"p":"D","g":"N","v":0.705},{"p":"D","g":"N","v":0.7},{"p":"D","g":"N","v":0.69},{"p":"D","g":"N","v":0.68},{"p":"D","g":"N","v":0.672},{"p":"D","g":"N","v":0.668},{"p":"D","g":"N","v":0.665},{"p":"D","g":"N","v":0.66},{"p":"D","g":"N","v":0.655},{"p":"D","g":"N","v":0.65},
{"p":"L","g":"FF","v":0.712},{"p":"L","g":"FF","v":0.705},{"p":"L","g":"FF","v":0.7},{"p":"L","g":"FF","v":0.68},{"p":"L","g":"FF","v":0.67},{"p":"L","g":"FF","v":0.665},{"p":"L","g":"FF","v":0.66},{"p":"L","g":"FF","v":0.655},{"p":"L","g":"FF","v":0.652},
{"p":"L","g":"N","v":0.728},{"p":"L","g":"N","v":0.715},{"p":"L","g":"N","v":0.7},{"p":"L","g":"N","v":0.69},{"p":"L","g":"N","v":0.68},{"p":"L","g":"N","v":0.675},{"p":"L","g":"N","v":0.67},{"p":"L","g":"N","v":0.665},{"p":"L","g":"N","v":0.66},{"p":"L","g":"N","v":0.655},{"p":"L","g":"N","v":0.65}]},
    "mark":{"type":"point","filled":true,"size":9,"opacity":1},"encoding":{"xOffset":{"field":"g","type":"nominal"},"color":{"field":"g","type":"nominal","scale":{"domain":["FF","N"],"range":["#000000","#f01e1e"]},"legend":{"title":null,"labelExpr":"datum.label == 'N' ? 'Nestin-Lgr4-/-' : datum.label"}},"shape":{"field":"g","type":"nominal","scale":{"domain":["FF","N"],"range":["circle","square"]},"legend":{"title":null,"labelExpr":"datum.label == 'N' ? 'Nestin-Lgr4-/-' : datum.label"}}}},
   {"data":{"values":[{"p":"D","v":0.743,"s":"p=0.07"}]},"mark":{"type":"text","fontSize":7.5,"fontWeight":"bold","color":"#000"},"encoding":{"text":{"field":"s"}}}
  ]}
],"spacing":31,"bounds":"flush",
"resolve":{"scale":{"color":"independent","shape":"independent","stroke":"independent","xOffset":"independent"},"legend":{"color":"independent","shape":"independent","stroke":"independent"}}},
{"vconcat":[
{"hconcat":[
 {"width":116,"height":78,"title":{"text":"H","dx":-27,"offset":-6},
  "data":{"values":[
{"t":0,"a":3800,"ae":800,"b":10500,"be":2500},{"t":0.5,"a":4200,"ae":800,"b":9500,"be":2500},{"t":1,"a":3500,"ae":800,"b":12500,"be":2500},{"t":1.5,"a":3900,"ae":800,"b":11000,"be":2500},{"t":2,"a":3300,"ae":800,"b":8000,"be":2500},{"t":2.5,"a":4000,"ae":800,"b":9500,"be":2500},{"t":3,"a":3600,"ae":800,"b":10000,"be":2500},{"t":3.5,"a":3200,"ae":800,"b":8500,"be":2500},{"t":4,"a":5000,"ae":800,"b":9000,"be":2500},{"t":4.5,"a":3400,"ae":800,"b":8800,"be":2500},{"t":5,"a":2800,"ae":800,"b":8000,"be":2500},{"t":5.5,"a":3000,"ae":700,"b":6500,"be":2200},{"t":6,"a":2000,"ae":600,"b":5500,"be":2000},{"t":6.5,"a":1500,"ae":400,"b":3500,"be":1200},{"t":7,"a":1200,"ae":300,"b":2500,"be":900},{"t":7.5,"a":900,"ae":300,"b":1800,"be":700},{"t":8,"a":800,"ae":300,"b":1500,"be":700},{"t":8.5,"a":700,"ae":300,"b":1200,"be":700},{"t":9,"a":900,"ae":300,"b":1000,"be":700},{"t":9.5,"a":600,"ae":300,"b":800,"be":700},{"t":10,"a":800,"ae":300,"b":1100,"be":700},{"t":10.5,"a":700,"ae":300,"b":900,"be":700},{"t":11,"a":1000,"ae":300,"b":1200,"be":700},{"t":11.5,"a":600,"ae":300,"b":1000,"be":700},{"t":12,"a":900,"ae":300,"b":800,"be":700},{"t":12.5,"a":800,"ae":300,"b":1100,"be":700},{"t":13,"a":1200,"ae":300,"b":900,"be":700},{"t":13.5,"a":900,"ae":300,"b":1200,"be":700},{"t":14,"a":700,"ae":300,"b":1000,"be":700},{"t":14.5,"a":1000,"ae":300,"b":800,"be":700},{"t":15,"a":1200,"ae":300,"b":1300,"be":700},{"t":15.5,"a":1500,"ae":400,"b":1500,"be":800},{"t":16,"a":1800,"ae":400,"b":1800,"be":900},{"t":16.5,"a":1900,"ae":500,"b":3500,"be":1500},{"t":17,"a":2000,"ae":600,"b":7500,"be":2000},{"t":17.5,"a":2500,"ae":700,"b":8500,"be":2500},{"t":18,"a":2800,"ae":800,"b":9000,"be":2500},{"t":18.5,"a":2500,"ae":800,"b":9500,"be":2500},{"t":19,"a":3000,"ae":800,"b":10000,"be":2500},{"t":19.5,"a":2800,"ae":800,"b":9800,"be":2500},{"t":20,"a":2600,"ae":800,"b":10500,"be":2500},{"t":20.5,"a":3200,"ae":800,"b":11000,"be":2500},{"t":21,"a":3000,"ae":800,"b":11500,"be":2500},{"t":21.5,"a":3400,"ae":800,"b":13500,"be":2800},{"t":22,"a":3800,"ae":800,"b":13000,"be":2800},{"t":22.5,"a":3500,"ae":800,"b":12000,"be":2500},{"t":23,"a":4200,"ae":800,"b":11000,"be":2500},{"t":23.5,"a":4500,"ae":800,"b":10500,"be":2500},{"t":24,"a":4000,"ae":800,"b":10000,"be":2500}]},
  "encoding":{"x":{"field":"t","type":"quantitative","scale":{"domain":[0,24],"nice":false},"axis":{"values":[0,2,4,6,8,10,12,14,16,18,20,22,24],"title":"Time (Hours)","labelFontSize":6}}},
  "layer":[
   {"data":{"values":[{"t":0,"t2":6},{"t":18,"t2":24}]},"mark":{"type":"rect","color":"#d6d6d6"},"encoding":{"x2":{"field":"t2"},"y":{"value":0},"y2":{"value":"height"}}},
   {"mark":{"type":"errorbar","color":"#555555","thickness":0.5},"encoding":{"y":{"field":"a","type":"quantitative","title":"Distance (cm)","scale":{"domain":[0,20000]},"axis":{"values":[0,5000,10000,15000,20000],"format":"d","title":"Distance (cm)","titlePadding":1}},"yError":{"field":"ae"}}},
   {"mark":{"type":"line","color":"#000000","strokeWidth":0.8,"point":{"filled":true,"size":5,"shape":"circle","color":"#000000"}},"encoding":{"y":{"field":"a","type":"quantitative","title":"Distance (cm)"}}},
   {"mark":{"type":"errorbar","color":"#f37a7a","thickness":0.5},"encoding":{"y":{"field":"b","type":"quantitative","title":"Distance (cm)"},"yError":{"field":"be"}}},
   {"mark":{"type":"line","color":"#f01e1e","strokeWidth":0.8,"point":{"filled":true,"size":5,"shape":"square","color":"#f01e1e"}},"encoding":{"y":{"field":"b","type":"quantitative","title":"Distance (cm)"}}},
   {"data":{"values":[{"t":12.2,"a":18300,"s":"Distance"}]},"mark":{"type":"text","fontSize":18,"fontWeight":"bold","color":"#000"},"encoding":{"y":{"field":"a","type":"quantitative","title":"Distance (cm)"},"text":{"field":"s"}}}
  ]},
 {"width":75,"height":78,
  "data":{"values":[{"p":"D","g":"FF","v":3000,"e":300},{"p":"D","g":"N","v":9800,"e":2200},{"p":"L","g":"FF","v":700,"e":180},{"p":"L","g":"N","v":1800,"e":500}]},
  "encoding":{"x":{"field":"p","type":"nominal","scale":{"domain":["D","L"],"paddingInner":0.15,"paddingOuter":0.05},"axis":{"title":null,"labelAngle":0,"labelFontWeight":"bold","labelFontSize":7.5,"labelExpr":"datum.value == 'D' ? 'Dark time' : 'Light time'"}},
   "xOffset":{"field":"g","type":"nominal","scale":{"domain":["FF","N"],"paddingInner":0.5,"paddingOuter":0.15}},
   "y":{"field":"v","type":"quantitative","scale":{"domain":[0,40000]},"axis":{"values":[0,10000,20000,30000,40000],"format":"d","title":"Distance (cm)"}}},
  "layer":[
   {"mark":{"type":"bar","fill":"white","strokeWidth":1.3},"encoding":{"stroke":{"field":"g","type":"nominal","scale":{"domain":["FF","N"],"range":["#000000","#f01e1e"]},"legend":{"title":null,"labelExpr":"datum.label == 'N' ? 'Nestin-Lgr4-/-' : datum.label"}}}},
   {"mark":{"type":"errorbar","ticks":true},"encoding":{"yError":{"field":"e"},"color":{"field":"g","type":"nominal","scale":{"domain":["FF","N"],"range":["#000000","#f01e1e"]},"legend":{"title":null,"labelExpr":"datum.label == 'N' ? 'Nestin-Lgr4-/-' : datum.label"}}}},
   {"data":{"values":[{"p":"D","g":"FF","v":3800},{"p":"D","g":"FF","v":3500},{"p":"D","g":"FF","v":3300},{"p":"D","g":"FF","v":3100},{"p":"D","g":"FF","v":3000},{"p":"D","g":"FF","v":2800},{"p":"D","g":"FF","v":2600},{"p":"D","g":"FF","v":2500},{"p":"D","g":"FF","v":2200},
{"p":"D","g":"N","v":24500},{"p":"D","g":"N","v":23500},{"p":"D","g":"N","v":22000},{"p":"D","g":"N","v":20500},{"p":"D","g":"N","v":9000},{"p":"D","g":"N","v":7000},{"p":"D","g":"N","v":5500},{"p":"D","g":"N","v":4000},{"p":"D","g":"N","v":3000},{"p":"D","g":"N","v":2500},{"p":"D","g":"N","v":1500},{"p":"D","g":"N","v":1200},
{"p":"L","g":"FF","v":2000},{"p":"L","g":"FF","v":1500},{"p":"L","g":"FF","v":1000},{"p":"L","g":"FF","v":800},{"p":"L","g":"FF","v":600},{"p":"L","g":"FF","v":400},{"p":"L","g":"FF","v":300},{"p":"L","g":"FF","v":200},{"p":"L","g":"FF","v":100},
{"p":"L","g":"N","v":6000},{"p":"L","g":"N","v":3500},{"p":"L","g":"N","v":3000},{"p":"L","g":"N","v":2500},{"p":"L","g":"N","v":2000},{"p":"L","g":"N","v":1500},{"p":"L","g":"N","v":1000},{"p":"L","g":"N","v":800},{"p":"L","g":"N","v":500},{"p":"L","g":"N","v":300},{"p":"L","g":"N","v":100}]},
    "mark":{"type":"point","filled":true,"size":9,"opacity":1},"encoding":{"color":{"field":"g","type":"nominal","scale":{"domain":["FF","N"],"range":["#000000","#f01e1e"]},"legend":{"title":null,"labelExpr":"datum.label == 'N' ? 'Nestin-Lgr4-/-' : datum.label"}},"shape":{"field":"g","type":"nominal","scale":{"domain":["FF","N"],"range":["circle","square"]},"legend":{"title":null,"labelExpr":"datum.label == 'N' ? 'Nestin-Lgr4-/-' : datum.label"}}}},
   {"data":{"values":[{"p":"D","g":"N","v":30000}]},"mark":{"type":"text","text":"*","fontSize":10,"color":"#000"}}
  ]},
 {"width":114,"height":78,"title":{"text":"I","dx":-23,"offset":-6},
  "data":{"values":[
{"t":0,"a":13.5,"ae":0.4,"b":17.5,"be":0.9},{"t":0.5,"a":13.8,"ae":0.4,"b":17.8,"be":0.9},{"t":1,"a":13.3,"ae":0.4,"b":17.3,"be":0.9},{"t":1.5,"a":13.6,"ae":0.4,"b":17.6,"be":0.9},{"t":2,"a":13.2,"ae":0.4,"b":17.2,"be":0.9},{"t":2.5,"a":13.4,"ae":0.4,"b":17.4,"be":0.9},{"t":3,"a":13.1,"ae":0.4,"b":17,"be":0.9},{"t":3.5,"a":13.3,"ae":0.4,"b":17.3,"be":0.9},{"t":4,"a":13.2,"ae":0.4,"b":17.5,"be":0.9},{"t":4.5,"a":12.9,"ae":0.4,"b":17,"be":0.9},{"t":5,"a":12.7,"ae":0.4,"b":16.5,"be":0.9},{"t":5.5,"a":12.3,"ae":0.4,"b":16,"be":0.8},{"t":6,"a":11.8,"ae":0.4,"b":15,"be":0.7},{"t":6.5,"a":11.3,"ae":0.4,"b":14,"be":0.6},{"t":7,"a":11,"ae":0.4,"b":13.3,"be":0.6},{"t":7.5,"a":10.8,"ae":0.4,"b":12.9,"be":0.6},{"t":8,"a":10.7,"ae":0.4,"b":13.2,"be":0.6},{"t":8.5,"a":10.9,"ae":0.4,"b":13.5,"be":0.6},{"t":9,"a":10.6,"ae":0.4,"b":13.1,"be":0.6},{"t":9.5,"a":10.8,"ae":0.4,"b":13.4,"be":0.6},{"t":10,"a":10.7,"ae":0.4,"b":13,"be":0.6},{"t":10.5,"a":11,"ae":0.4,"b":13.3,"be":0.6},{"t":11,"a":10.8,"ae":0.4,"b":13.6,"be":0.6},{"t":11.5,"a":11.3,"ae":0.4,"b":13.2,"be":0.6},{"t":12,"a":11,"ae":0.4,"b":13,"be":0.6},{"t":12.5,"a":10.7,"ae":0.4,"b":13.5,"be":0.6},{"t":13,"a":10.5,"ae":0.4,"b":13.8,"be":0.6},{"t":13.5,"a":10.9,"ae":0.4,"b":13.4,"be":0.6},{"t":14,"a":11.2,"ae":0.4,"b":13.1,"be":0.6},{"t":14.5,"a":10.7,"ae":0.4,"b":13.5,"be":0.6},{"t":15,"a":10.8,"ae":0.4,"b":13.9,"be":0.6},{"t":15.5,"a":11,"ae":0.4,"b":14,"be":0.6},{"t":16,"a":11.4,"ae":0.4,"b":14.3,"be":0.6},{"t":16.5,"a":12,"ae":0.4,"b":15.5,"be":0.7},{"t":17,"a":12.6,"ae":0.4,"b":16.8,"be":0.8},{"t":17.5,"a":13,"ae":0.4,"b":17.5,"be":0.9},{"t":18,"a":13.3,"ae":0.4,"b":18,"be":0.9},{"t":18.5,"a":13.5,"ae":0.4,"b":18.4,"be":0.9},{"t":19,"a":13.6,"ae":0.4,"b":18.6,"be":0.9},{"t":19.5,"a":13.9,"ae":0.4,"b":18.9,"be":0.9},{"t":20,"a":13.7,"ae":0.4,"b":18.7,"be":0.9},{"t":20.5,"a":14,"ae":0.4,"b":19,"be":0.9},{"t":21,"a":14.2,"ae":0.4,"b":18.8,"be":0.9},{"t":21.5,"a":13.9,"ae":0.4,"b":19.1,"be":0.9},{"t":22,"a":14.1,"ae":0.4,"b":18.7,"be":0.9},{"t":22.5,"a":14.3,"ae":0.4,"b":18.5,"be":0.9},{"t":23,"a":14.6,"ae":0.4,"b":18,"be":0.9},{"t":23.5,"a":14.3,"ae":0.4,"b":17.5,"be":0.9},{"t":24,"a":14,"ae":0.4,"b":17,"be":0.9}]},
  "encoding":{"x":{"field":"t","type":"quantitative","scale":{"domain":[0,24],"nice":false},"axis":{"values":[0,2,4,6,8,10,12,14,16,18,20,22,24],"title":"Time (Hours)","labelFontSize":6}}},
  "layer":[
   {"data":{"values":[{"t":0,"t2":6},{"t":18,"t2":24}]},"mark":{"type":"rect","color":"#d6d6d6"},"encoding":{"x2":{"field":"t2"},"y":{"value":0},"y2":{"value":"height"}}},
   {"mark":{"type":"errorbar","color":"#555555","thickness":0.5},"encoding":{"y":{"field":"a","type":"quantitative","title":"Heat (kcal/h/kg)","scale":{"domain":[0,25]},"axis":{"values":[0,5,10,15,20,25],"title":"Heat (kcal/h/kg)"}},"yError":{"field":"ae"}}},
   {"mark":{"type":"line","color":"#000000","strokeWidth":0.8,"point":{"filled":true,"size":5,"shape":"circle","color":"#000000"}},"encoding":{"y":{"field":"a","type":"quantitative","title":"Heat (kcal/h/kg)"}}},
   {"mark":{"type":"errorbar","color":"#f37a7a","thickness":0.5},"encoding":{"y":{"field":"b","type":"quantitative","title":"Heat (kcal/h/kg)"},"yError":{"field":"be"}}},
   {"mark":{"type":"line","color":"#f01e1e","strokeWidth":0.8,"point":{"filled":true,"size":5,"shape":"square","color":"#f01e1e"}},"encoding":{"y":{"field":"b","type":"quantitative","title":"Heat (kcal/h/kg)"}}},
   {"data":{"values":[{"t":11,"a":22.8,"s":"Heat"}]},"mark":{"type":"text","fontSize":18,"fontWeight":"bold","color":"#000"},"encoding":{"y":{"field":"a","type":"quantitative","title":"Heat (kcal/h/kg)"},"text":{"field":"s"}}}
  ]},
 {"width":75,"height":78,
  "data":{"values":[{"p":"D","g":"FF","v":12.3,"e":0.4},{"p":"D","g":"N","v":18.5,"e":1.6},{"p":"L","g":"FF","v":10.2,"e":0.4},{"p":"L","g":"N","v":14,"e":0.8}]},
  "encoding":{"x":{"field":"p","type":"nominal","scale":{"domain":["D","L"],"paddingInner":0.15,"paddingOuter":0.05},"axis":{"title":null,"labelAngle":0,"labelFontWeight":"bold","labelFontSize":7.5,"labelExpr":"datum.value == 'D' ? 'Dark time' : 'Light time'"}},
   "xOffset":{"field":"g","type":"nominal","scale":{"domain":["FF","N"],"paddingInner":0.5,"paddingOuter":0.15}},
   "y":{"field":"v","type":"quantitative","scale":{"domain":[0,40]},"axis":{"values":[0,10,20,30,40],"title":"Heat (kcal/h/kg)"}}},
  "layer":[
   {"mark":{"type":"bar","fill":"white","strokeWidth":1.3},"encoding":{"stroke":{"field":"g","type":"nominal","scale":{"domain":["FF","N"],"range":["#000000","#f01e1e"]},"legend":{"title":null,"labelExpr":"datum.label == 'N' ? 'Nestin-Lgr4-/-' : datum.label"}}}},
   {"mark":{"type":"errorbar","ticks":true},"encoding":{"yError":{"field":"e"},"color":{"field":"g","type":"nominal","scale":{"domain":["FF","N"],"range":["#000000","#f01e1e"]},"legend":{"title":null,"labelExpr":"datum.label == 'N' ? 'Nestin-Lgr4-/-' : datum.label"}}}},
   {"data":{"values":[{"p":"D","g":"FF","v":13.5},{"p":"D","g":"FF","v":13},{"p":"D","g":"FF","v":12.8},{"p":"D","g":"FF","v":12.5},{"p":"D","g":"FF","v":12.3},{"p":"D","g":"FF","v":12},{"p":"D","g":"FF","v":11.8},{"p":"D","g":"FF","v":11.5},{"p":"D","g":"FF","v":11},
{"p":"D","g":"N","v":29},{"p":"D","g":"N","v":28},{"p":"D","g":"N","v":26.5},{"p":"D","g":"N","v":25},{"p":"D","g":"N","v":20},{"p":"D","g":"N","v":18},{"p":"D","g":"N","v":16.5},{"p":"D","g":"N","v":15},{"p":"D","g":"N","v":14},{"p":"D","g":"N","v":13},{"p":"D","g":"N","v":12},{"p":"D","g":"N","v":11},
{"p":"L","g":"FF","v":12},{"p":"L","g":"FF","v":11.5},{"p":"L","g":"FF","v":11},{"p":"L","g":"FF","v":10.5},{"p":"L","g":"FF","v":10.2},{"p":"L","g":"FF","v":10},{"p":"L","g":"FF","v":9.7},{"p":"L","g":"FF","v":9.5},{"p":"L","g":"FF","v":9},
{"p":"L","g":"N","v":17.5},{"p":"L","g":"N","v":17},{"p":"L","g":"N","v":16},{"p":"L","g":"N","v":15.5},{"p":"L","g":"N","v":15},{"p":"L","g":"N","v":14},{"p":"L","g":"N","v":13.5},{"p":"L","g":"N","v":13},{"p":"L","g":"N","v":12},{"p":"L","g":"N","v":11.5},{"p":"L","g":"N","v":10.5}]},
    "mark":{"type":"point","filled":true,"size":9,"opacity":1},"encoding":{"color":{"field":"g","type":"nominal","scale":{"domain":["FF","N"],"range":["#000000","#f01e1e"]},"legend":{"title":null,"labelExpr":"datum.label == 'N' ? 'Nestin-Lgr4-/-' : datum.label"}},"shape":{"field":"g","type":"nominal","scale":{"domain":["FF","N"],"range":["circle","square"]},"legend":{"title":null,"labelExpr":"datum.label == 'N' ? 'Nestin-Lgr4-/-' : datum.label"}}}},
   {"data":{"values":[{"p":"D","g":"N","v":33},{"p":"L","g":"N","v":21}]},"mark":{"type":"text","text":"*","fontSize":10,"color":"#000"}}
  ]},
 {"width":118,"height":78,"title":{"text":"J","dx":-37,"offset":-6},
  "data":{"values":[
{"x":0,"g":"FF","v":37.93,"e":0.05},{"x":1,"g":"FF","v":37.1,"e":0.3},{"x":2,"g":"FF","v":36.5,"e":0.4},{"x":3,"g":"FF","v":36.75,"e":0.35},{"x":4,"g":"FF","v":36.3,"e":0.15},{"x":5,"g":"FF","v":35.6,"e":0.35},{"x":6,"g":"FF","v":35.85,"e":0.3},
{"x":0,"g":"N","v":37.95,"e":0.05},{"x":1,"g":"N","v":37.25,"e":0.35},{"x":2,"g":"N","v":36.55,"e":0.3},{"x":3,"g":"N","v":37.1,"e":0.15},{"x":4,"g":"N","v":37.12,"e":0.15},{"x":5,"g":"N","v":36.47,"e":0.4},{"x":6,"g":"N","v":36.57,"e":0.35}]},
  "encoding":{"x":{"field":"x","type":"quantitative","scale":{"domain":[0,6],"nice":false},"axis":{"values":[0,1,2,3,4,5,6],"title":"Time (Hours)"}},
   "y":{"field":"v","type":"quantitative","scale":{"domain":[34,39],"zero":false},"axis":{"values":[34,35,36,37,38,39],"title":"Body temperature (°C)"}}},
  "layer":[
   {"mark":{"type":"errorbar","ticks":true,"thickness":0.8},"encoding":{"yError":{"field":"e"},"color":{"field":"g","type":"nominal","scale":{"domain":["FF","N"],"range":["#000000","#f01e1e"]}}}},
   {"mark":{"type":"line","strokeWidth":0.8},"encoding":{"color":{"field":"g","type":"nominal","scale":{"domain":["FF","N"],"range":["#000000","#f01e1e"]}}}},
   {"mark":{"type":"point","filled":true,"size":16,"opacity":1},"encoding":{"color":{"field":"g","type":"nominal","scale":{"domain":["FF","N"],"range":["#000000","#f01e1e"]},"legend":{"title":null,"labelExpr":"datum.label == 'N' ? 'Nestin-Lgr4-/-' : datum.label"}},"shape":{"field":"g","type":"nominal","scale":{"domain":["FF","N"],"range":["circle","square"]},"legend":{"title":null,"labelExpr":"datum.label == 'N' ? 'Nestin-Lgr4-/-' : datum.label"}}}}
  ]},
 {"width":62,"height":80,"title":{"text":"O","dx":-30,"offset":-6},
  "data":{"values":[{"g":"FF","v":11.5,"e":0.7},{"g":"N","v":8.6,"e":1}]},
  "encoding":{"x":{"field":"g","type":"nominal","scale":{"domain":["FF","N"],"paddingInner":0.4,"paddingOuter":0.25},"axis":{"labels":false,"title":null}},
   "y":{"field":"v","type":"quantitative","scale":{"domain":[0,15]},"axis":{"values":[0,5,10,15],"title":"Leptin (ng/mL)"}}},
  "layer":[
   {"mark":{"type":"bar","fill":"white","strokeWidth":1.5},"encoding":{"stroke":{"field":"g","type":"nominal","scale":{"domain":["FF","N"],"range":["#000000","#f01e1e"]},"legend":null}}},
   {"mark":{"type":"errorbar","ticks":true},"encoding":{"yError":{"field":"e"},"color":{"field":"g","type":"nominal","scale":{"domain":["FF","N"],"range":["#000000","#f01e1e"]},"legend":null}}},
   {"data":{"values":[{"g":"FF","i":1,"v":10.1},{"g":"FF","i":2,"v":13.2},{"g":"FF","i":3,"v":11.2},{"g":"N","i":1,"v":9.3},{"g":"N","i":2,"v":6.2},{"g":"N","i":3,"v":10.9},{"g":"N","i":4,"v":7.6}]},
    "mark":{"type":"point","filled":true,"size":12,"opacity":1},"encoding":{"xOffset":{"field":"i","type":"ordinal","scale":{"paddingOuter":1}},"color":{"field":"g","type":"nominal","scale":{"domain":["FF","N"],"range":["#000000","#f01e1e"]},"legend":null},"shape":{"field":"g","type":"nominal","scale":{"domain":["FF","N"],"range":["circle","square"]},"legend":null}}},
   {"data":{"values":[{"g":"N","v":12.8}]},"mark":{"type":"text","text":"*","fontSize":10,"color":"#000"}}
  ]}
],"spacing":34,"bounds":"flush",
"resolve":{"scale":{"color":"independent","shape":"independent","stroke":"independent","xOffset":"independent"},"legend":{"color":"independent","shape":"independent","stroke":"independent"}}},
{"hconcat":[
  {"width":123,"height":85,"title":{"text":"K","dx":-31,"offset":-12},
   "data":{"values":[{"x":0,"g":"FF","v":150,"e":15},{"x":15,"g":"FF","v":480,"e":25},{"x":30,"g":"FF","v":510,"e":15},{"x":60,"g":"FF","v":360,"e":30},{"x":90,"g":"FF","v":290,"e":45},{"x":120,"g":"FF","v":210,"e":25},
{"x":0,"g":"N","v":115,"e":10},{"x":15,"g":"N","v":320,"e":25},{"x":30,"g":"N","v":365,"e":30},{"x":60,"g":"N","v":255,"e":25},{"x":90,"g":"N","v":160,"e":12},{"x":120,"g":"N","v":120,"e":8}]},
   "encoding":{"x":{"field":"x","type":"quantitative","scale":{"domain":[0,120],"nice":false},"axis":{"values":[0,15,30,45,60,75,90,105,120],"title":"Time after Glucose Injection (min)","titlePadding":1,"labelPadding":0}},
    "y":{"field":"v","type":"quantitative","scale":{"domain":[0,650],"range":[85,11]},"axis":{"values":[0,130,260,390,520,650],"title":"Glucose (mg/dL)"}}},
   "layer":[
    {"mark":{"type":"errorbar","ticks":true,"thickness":0.8},"encoding":{"yError":{"field":"e"},"color":{"field":"g","type":"nominal","scale":{"domain":["FF","N"],"range":["#000000","#f01e1e"]}}}},
    {"mark":{"type":"line","strokeWidth":0.8},"encoding":{"color":{"field":"g","type":"nominal","scale":{"domain":["FF","N"],"range":["#000000","#f01e1e"]}}}},
    {"mark":{"type":"point","filled":true,"size":16,"opacity":1},"encoding":{"color":{"field":"g","type":"nominal","scale":{"domain":["FF","N"],"range":["#000000","#f01e1e"]},"legend":{"title":null,"offset":8,"labelExpr":"datum.label == 'N' ? 'Nestin-Lgr4-/-' : datum.label"}},"shape":{"field":"g","type":"nominal","scale":{"domain":["FF","N"],"range":["circle","square"]},"legend":{"title":null,"offset":8,"labelExpr":"datum.label == 'N' ? 'Nestin-Lgr4-/-' : datum.label"}}}},
    {"data":{"values":[{"x":15,"v":240},{"x":30,"v":290}]},"mark":{"type":"text","text":"*","fontSize":9,"color":"#000"}}
   ]},
 {"width":66,"height":85,
  "data":{"values":[{"g":"FF","v":49800,"e":3500},{"g":"N","v":26000,"e":4000}]},
  "encoding":{"x":{"field":"g","type":"nominal","scale":{"domain":["FF","N"],"paddingInner":0.4,"paddingOuter":0.25},"axis":{"labels":false,"title":null}},
   "y":{"field":"v","type":"quantitative","scale":{"domain":[0,60000]},"axis":{"values":[0,20000,40000,60000],"format":"d","title":"AUC"}}},
  "layer":[
   {"mark":{"type":"bar","fill":"white","strokeWidth":1.5},"encoding":{"stroke":{"field":"g","type":"nominal","scale":{"domain":["FF","N"],"range":["#000000","#f01e1e"]},"legend":null}}},
   {"mark":{"type":"errorbar","ticks":true},"encoding":{"yError":{"field":"e"},"color":{"field":"g","type":"nominal","scale":{"domain":["FF","N"],"range":["#000000","#f01e1e"]},"legend":null}}},
   {"data":{"values":[{"g":"FF","v":49800},{"g":"N","v":26500}]},"mark":{"type":"point","filled":true,"size":12,"opacity":1},"encoding":{"color":{"field":"g","type":"nominal","scale":{"domain":["FF","N"],"range":["#000000","#f01e1e"]},"legend":null},"shape":{"field":"g","type":"nominal","scale":{"domain":["FF","N"],"range":["circle","square"]},"legend":null}}},
   {"data":{"values":[{"g":"N","v":38000}]},"mark":{"type":"text","text":"*","fontSize":10,"color":"#000"}}
  ]},
  {"width":120,"height":85,"title":{"text":"L","dx":-20,"offset":-12},
   "data":{"values":[{"x":0,"g":"FF","v":152,"e":8},{"x":15,"g":"FF","v":110,"e":4},{"x":30,"g":"FF","v":82,"e":3},{"x":60,"g":"FF","v":80,"e":5},{"x":90,"g":"FF","v":106,"e":5},{"x":120,"g":"FF","v":125,"e":5},
{"x":0,"g":"N","v":118,"e":6},{"x":15,"g":"N","v":88,"e":3},{"x":30,"g":"N","v":46,"e":3},{"x":60,"g":"N","v":57,"e":6},{"x":90,"g":"N","v":88,"e":10},{"x":120,"g":"N","v":105,"e":12}]},
   "encoding":{"x":{"field":"x","type":"quantitative","scale":{"domain":[0,120],"nice":false},"axis":{"values":[0,15,30,45,60,75,90,105,120],"title":"Time after Insulin Injection (min)","titlePadding":1,"labelPadding":0}},
    "y":{"field":"v","type":"quantitative","scale":{"domain":[0,200],"range":[85,11]},"axis":{"values":[0,50,100,150,200],"title":"Glucose (mg/dL)"}}},
   "layer":[
    {"mark":{"type":"errorbar","ticks":true,"thickness":0.8},"encoding":{"yError":{"field":"e"},"color":{"field":"g","type":"nominal","scale":{"domain":["FF","N"],"range":["#000000","#f01e1e"]}}}},
    {"mark":{"type":"line","strokeWidth":0.8},"encoding":{"color":{"field":"g","type":"nominal","scale":{"domain":["FF","N"],"range":["#000000","#f01e1e"]}}}},
    {"mark":{"type":"point","filled":true,"size":16,"opacity":1},"encoding":{"color":{"field":"g","type":"nominal","scale":{"domain":["FF","N"],"range":["#000000","#f01e1e"]},"legend":{"title":null,"offset":8,"labelExpr":"datum.label == 'N' ? 'Nestin-Lgr4-/-' : datum.label"}},"shape":{"field":"g","type":"nominal","scale":{"domain":["FF","N"],"range":["circle","square"]},"legend":{"title":null,"offset":8,"labelExpr":"datum.label == 'N' ? 'Nestin-Lgr4-/-' : datum.label"}}}},
    {"data":{"values":[{"x":15,"v":55},{"x":30,"v":27},{"x":60,"v":22}]},"mark":{"type":"text","text":"*","fontSize":9,"color":"#000"}}
   ]},
 {"width":59,"height":85,
  "data":{"values":[{"g":"FF","v":12100,"e":500},{"g":"N","v":9200,"e":850}]},
  "encoding":{"x":{"field":"g","type":"nominal","scale":{"domain":["FF","N"],"paddingInner":0.4,"paddingOuter":0.25},"axis":{"labels":false,"title":null}},
   "y":{"field":"v","type":"quantitative","scale":{"domain":[0,15000]},"axis":{"values":[0,5000,10000,15000],"format":"d","title":"AUC"}}},
  "layer":[
   {"mark":{"type":"bar","fill":"white","strokeWidth":1.5},"encoding":{"stroke":{"field":"g","type":"nominal","scale":{"domain":["FF","N"],"range":["#000000","#f01e1e"]},"legend":null}}},
   {"mark":{"type":"errorbar","ticks":true},"encoding":{"yError":{"field":"e"},"color":{"field":"g","type":"nominal","scale":{"domain":["FF","N"],"range":["#000000","#f01e1e"]},"legend":null}}},
   {"data":{"values":[{"g":"FF","v":11800},{"g":"N","v":9200}]},"mark":{"type":"point","filled":true,"size":12,"opacity":1},"encoding":{"color":{"field":"g","type":"nominal","scale":{"domain":["FF","N"],"range":["#000000","#f01e1e"]},"legend":null},"shape":{"field":"g","type":"nominal","scale":{"domain":["FF","N"],"range":["circle","square"]},"legend":null}}},
   {"data":{"values":[{"g":"N","v":11500}]},"mark":{"type":"text","text":"*","fontSize":10,"color":"#000"}}
  ]},
  {"width":119,"height":85,"title":{"text":"M","dx":-30,"offset":-12},
   "data":{"values":[{"x":0,"g":"FF","v":0.118,"e":0.008},{"x":30,"g":"FF","v":0.14,"e":0.005},{"x":60,"g":"FF","v":0.138,"e":0.005},{"x":90,"g":"FF","v":0.111,"e":0.008},
{"x":0,"g":"N","v":0.06,"e":0.004},{"x":30,"g":"N","v":0.101,"e":0.006},{"x":60,"g":"N","v":0.105,"e":0.012},{"x":90,"g":"N","v":0.097,"e":0.005}]},
   "encoding":{"x":{"field":"x","type":"quantitative","scale":{"domain":[0,90],"nice":false},"axis":{"values":[0,15,30,45,60,75,90],"title":"Time after Glucose Injection (min)","titlePadding":1,"labelPadding":0}},
    "y":{"field":"v","type":"quantitative","scale":{"domain":[0,0.2],"range":[85,10]},"axis":{"values":[0,0.05,0.1,0.15,0.2],"format":".2f","title":"Insulin (IU/mL)"}}},
   "layer":[
    {"mark":{"type":"errorbar","ticks":true,"thickness":0.8},"encoding":{"yError":{"field":"e"},"color":{"field":"g","type":"nominal","scale":{"domain":["FF","N"],"range":["#000000","#f01e1e"]}}}},
    {"mark":{"type":"line","strokeWidth":0.8},"encoding":{"color":{"field":"g","type":"nominal","scale":{"domain":["FF","N"],"range":["#000000","#f01e1e"]}}}},
    {"mark":{"type":"point","filled":true,"size":16,"opacity":1},"encoding":{"color":{"field":"g","type":"nominal","scale":{"domain":["FF","N"],"range":["#000000","#f01e1e"]},"legend":{"title":null,"offset":8,"labelExpr":"datum.label == 'N' ? 'Nestin-Lgr4-/-' : datum.label"}},"shape":{"field":"g","type":"nominal","scale":{"domain":["FF","N"],"range":["circle","square"]},"legend":{"title":null,"offset":8,"labelExpr":"datum.label == 'N' ? 'Nestin-Lgr4-/-' : datum.label"}}}},
    {"data":{"values":[{"x":30,"v":0.074},{"x":60,"v":0.074}]},"mark":{"type":"text","text":"*","fontSize":9,"color":"#000"}}
   ]},
 {"width":55,"height":85,"title":{"text":"N","dx":-23,"offset":-12},
  "data":{"values":[{"g":"FF","v":3.07,"e":0.85},{"g":"N","v":0.88,"e":0.2}]},
  "encoding":{"x":{"field":"g","type":"nominal","scale":{"domain":["FF","N"],"paddingInner":0.4,"paddingOuter":0.25},"axis":{"labels":false,"title":null}},
   "y":{"field":"v","type":"quantitative","scale":{"domain":[0,8]},"axis":{"values":[0,2,4,6,8],"title":"Insulin (IU/mL)"}}},
  "layer":[
   {"mark":{"type":"bar","fill":"white","strokeWidth":1.5},"encoding":{"stroke":{"field":"g","type":"nominal","scale":{"domain":["FF","N"],"range":["#000000","#f01e1e"]},"legend":null}}},
   {"mark":{"type":"errorbar","ticks":true},"encoding":{"yError":{"field":"e"},"color":{"field":"g","type":"nominal","scale":{"domain":["FF","N"],"range":["#000000","#f01e1e"]},"legend":null}}},
   {"data":{"values":[{"g":"FF","i":1,"v":2.2},{"g":"FF","i":2,"v":6.6},{"g":"FF","i":3,"v":2.0},{"g":"FF","i":4,"v":4.7},{"g":"FF","i":5,"v":0.56},{"g":"FF","i":6,"v":2.3},
{"g":"N","i":1,"v":1.5},{"g":"N","i":2,"v":0.3},{"g":"N","i":3,"v":1.4},{"g":"N","i":4,"v":0.95},{"g":"N","i":5,"v":0.6},{"g":"N","i":6,"v":0.3}]},
    "mark":{"type":"point","filled":true,"size":12,"opacity":1},"encoding":{"xOffset":{"field":"i","type":"ordinal","scale":{"paddingOuter":1}},"color":{"field":"g","type":"nominal","scale":{"domain":["FF","N"],"range":["#000000","#f01e1e"]},"legend":null},"shape":{"field":"g","type":"nominal","scale":{"domain":["FF","N"],"range":["circle","square"]},"legend":null}}},
   {"data":{"values":[{"g":"N","v":2.75}]},"mark":{"type":"text","text":"*","fontSize":10,"color":"#000"}}
  ]}
],"spacing":37,"bounds":"flush",
"resolve":{"scale":{"color":"independent","shape":"independent","stroke":"independent","xOffset":"independent"},"legend":{"color":"independent","shape":"independent","stroke":"independent"}}}
],"spacing":-14,
"resolve":{"scale":{"color":"independent","shape":"independent","stroke":"independent","xOffset":"independent"},"legend":{"color":"independent","shape":"independent","stroke":"independent"}}}
],"spacing":-16,
"resolve":{"scale":{"color":"independent","shape":"independent","stroke":"independent","xOffset":"independent"},"legend":{"color":"independent","shape":"independent","stroke":"independent"}}}
],"spacing":-20,
"resolve":{"scale":{"color":"independent","shape":"independent","stroke":"independent","xOffset":"independent"},"legend":{"color":"independent","shape":"independent","stroke":"independent"}}
}
